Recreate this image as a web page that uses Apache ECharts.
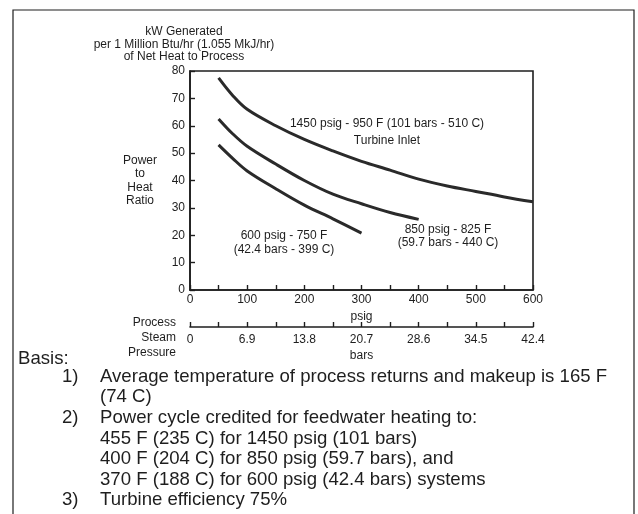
<!DOCTYPE html>
<html><head><meta charset="utf-8">
<script src="https://cdn.jsdelivr.net/npm/echarts@6/dist/echarts.min.js"></script>
<style>html,body{margin:0;padding:0;background:#fff}#c{width:638px;height:514px}</style>
</head><body><div id="c"></div>
<script>
// ---- data ----
const barsTickLabels = ['0', '6.9', '13.8', '20.7', '28.6', '34.5', '42.4'];
const psig1450 = [50, 75, 100, 150, 200, 250, 300, 350, 400, 450, 500, 550, 600];
const ratio1450 = [77.5, 71, 66, 60, 55, 50.8, 47, 43.8, 40.5, 38, 36, 34, 32.2];
const psig850 = [50, 75, 100, 150, 200, 250, 300, 350, 400];
const ratio850 = [62.5, 57, 52.5, 46, 40, 35, 31.5, 28.3, 25.8];
const psig600 = [50, 75, 100, 150, 200, 250, 300];
const ratio600 = [53, 48, 43.5, 37, 31, 26, 20.8];

const font = '"Liberation Sans", Arial, sans-serif';
const ink = '#1e1e1e';
function pairs(xs, ys) { return xs.map((x, i) => [x, ys[i]]); }
function txt(text, x, y, size, align, weight) {
  return { type: 'text', x: x, y: y, silent: true,
    style: { text: text, fill: ink, font: (weight || 'normal') + ' ' + size + 'px ' + font,
      textAlign: align || 'center', textVerticalAlign: 'middle' } };
}
const chart = echarts.init(document.getElementById('c'), null, { renderer: 'canvas' });
const axisCommon = {
  type: 'value', min: 0, max: 600, interval: 100,
  axisLine: { show: true, lineStyle: { color: ink, width: 1.6 } },
  axisTick: { show: true, inside: true, length: 5, lineStyle: { color: ink, width: 1.4 } },
  minorTick: { show: true, splitNumber: 2, length: 5, lineStyle: { color: ink, width: 1.4 } },
  splitLine: { show: false },
  axisLabel: { color: ink, fontSize: 12, fontFamily: font, margin: 4 }
};
const lineSeries = (d) => ({ type: 'line', data: d, smooth: 0.35, symbol: 'none',
  lineStyle: { color: '#2a2a2a', width: 3 }, silent: true });
chart.setOption({
  animation: false,
  grid: { left: 190, top: 71, width: 343, height: 219, show: true, borderColor: ink, borderWidth: 1.6 },
  xAxis: [
    Object.assign({}, axisCommon, { position: 'bottom' }),
    Object.assign({}, axisCommon, { position: 'bottom', offset: 37,
      axisLabel: Object.assign({}, axisCommon.axisLabel, { margin: 7,
        formatter: (v) => barsTickLabels[Math.round(v / 100)] }) })
  ],
  yAxis: {
    type: 'value', min: 0, max: 80, interval: 10,
    axisLine: { show: true, lineStyle: { color: ink, width: 1.6 } },
    axisTick: { show: true, inside: true, length: 5, lineStyle: { color: ink, width: 1.4 } },
    splitLine: { show: false },
    axisLabel: { color: ink, fontSize: 12, fontFamily: font, margin: 5 }
  },
  series: [lineSeries(pairs(psig1450, ratio1450)), lineSeries(pairs(psig850, ratio850)), lineSeries(pairs(psig600, ratio600))],
  graphic: [
    { type: 'rect', shape: { x: 13, y: 10, width: 621, height: 512 }, silent: true,
      style: { fill: 'none', stroke: ink, lineWidth: 1.2 } },
    txt('kW Generated', 184, 32, 12),
    txt('per 1 Million Btu/hr (1.055 MkJ/hr)', 184, 44.5, 12),
    txt('of Net Heat to Process', 184, 57, 12),
    txt('Power', 140, 161, 12), txt('to', 140, 174, 12), txt('Heat', 140, 188, 12), txt('Ratio', 140, 201, 12),
    txt('1450 psig - 950 F (101 bars - 510 C)', 387, 124, 12),
    txt('Turbine Inlet', 387, 141, 12),
    txt('850 psig - 825 F', 448, 230, 12),
    txt('(59.7 bars - 440 C)', 448, 243, 12),
    txt('600 psig - 750 F', 284, 236, 12),
    txt('(42.4 bars - 399 C)', 284, 250, 12),
    txt('psig', 361.5, 317, 12),
    txt('bars', 361.5, 356, 12),
    txt('Process', 176, 323, 12, 'right'),
    txt('Steam', 176, 338, 12, 'right'),
    txt('Pressure', 176, 353, 12, 'right'),
    txt('Basis:', 18, 359, 18.6, 'left'),
    txt('1)', 62, 377, 18.6, 'left'),
    txt('Average temperature of process returns and makeup is 165 F', 100, 377, 18.6, 'left'),
    txt('(74 C)', 100, 397, 18.6, 'left'),
    txt('2)', 62, 418, 18.6, 'left'),
    txt('Power cycle credited for feedwater heating to:', 100, 418, 18.6, 'left'),
    txt('455 F (235 C) for 1450 psig (101 bars)', 100, 438.5, 18.6, 'left'),
    txt('400 F (204 C) for 850 psig (59.7 bars), and', 100, 459, 18.6, 'left'),
    txt('370 F (188 C) for 600 psig (42.4 bars) systems', 100, 479.5, 18.6, 'left'),
    txt('3)', 62, 500, 18.6, 'left'),
    txt('Turbine efficiency 75%', 100, 500, 18.6, 'left')
  ]
});
</script></body></html>
